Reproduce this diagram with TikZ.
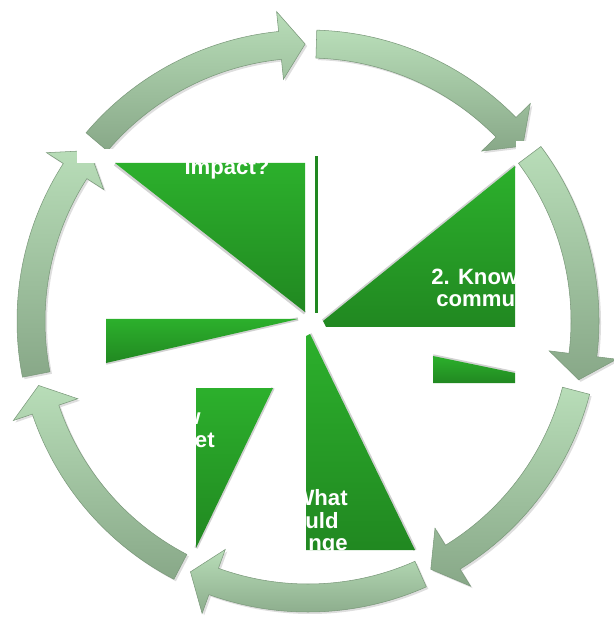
\documentclass[tikz,border=0pt]{standalone}
\usepackage{fontspec}
\setsansfont{Liberation Sans}
\definecolor{arrowlight}{RGB}{184,221,184}
\definecolor{arrowdark}{RGB}{136,168,136}
\definecolor{arrowedge}{RGB}{122,152,122}
\definecolor{wedgelight}{RGB}{44,176,44}
\definecolor{wedgedark}{RGB}{33,136,33}

\begin{document}
\begin{tikzpicture}[x=0.02cm, y=-0.02cm,
	every node/.style={font=\sffamily\bfseries\fontsize{12.6}{14}\selectfont, text=white, inner sep=0pt},
	cyclearrow/.style={top color=arrowlight, bottom color=arrowdark, draw=arrowedge, line width=0.3pt},
	arrowshadow/.style={fill=black!13},
	wedge/.style={top color=wedgelight, bottom color=wedgedark},
	wedgeshadow/.style={draw=black!18, line width=2pt}]
	\useasboundingbox (0,0) rectangle (613,617);
	% seven arrows round the cycle, shadow first
	\begin{scope}[shift={(310,323)}, yscale=-1]
		\foreach \t [evaluate=\t as \s using \t+49.1, evaluate=\t as \b using \t+5.2] in {90.6,39.17,-12.26,-63.69,-115.11,-166.54,-217.97}
			\fill[arrowshadow] (\s:291) arc[start angle=\s, end angle=\b, radius=291] -- (\b:311) -- (\t:277) -- (\b:243) -- (\b:263) arc[start angle=\b, end angle=\s, radius=263] -- cycle;
	\end{scope}
	\begin{scope}[shift={(308,321)}, yscale=-1]
		\foreach \t [evaluate=\t as \s using \t+49.1, evaluate=\t as \b using \t+5.2] in {90.6,39.17,-12.26,-63.69,-115.11,-166.54,-217.97}
			\shade[cyclearrow] (\s:291) arc[start angle=\s, end angle=\b, radius=291] -- (\b:311) -- (\t:277) -- (\b:243) -- (\b:263) arc[start angle=\b, end angle=\s, radius=263] -- cycle;
	\end{scope}
	\fill[white] (77,149) rectangle (120,163);
	\fill[white] (516,141) rectangle (527,153);
	% wedges, cut by their boxes
	\draw[wedgeshadow] (115,164) -- (305,313);
	\shade[wedge] (115,163) -- (305,163) -- (305,312) -- cycle;
	\fill[wedgedark] (314.5,156) rectangle (317.5,313);
	\draw[wedgeshadow] (323,321) -- (515,166);
	\shade[wedge] (323,321) -- (515,166) -- (515,327) -- (326,327) -- cycle;
	\draw[wedgeshadow] (433,356) -- (515,373);
	\shade[wedge] (433,356) -- (515,373) -- (515,383) -- (433,383) -- cycle;
	\draw[wedgeshadow] (298,319) -- (106,363);
	\shade[wedge] (106,319) -- (298,319) -- (106,363) -- cycle;
	\draw[wedgeshadow] (273,388) -- (196,548);
	\shade[wedge] (196,388) -- (273,388) -- (196,548) -- cycle;
	\draw[wedgeshadow] (310,334) -- (415,550);
	\shade[wedge] (306,336) -- (310,334) -- (415,550) -- (306,550) -- cycle;
	% texts
	\begin{scope}
		\clip (115,163) rectangle (305,312);
		\node[anchor=base] (impact) at (227,175) {Impact?};
	\end{scope}
	\begin{scope}
		\clip (323,160) rectangle (515,327);
		\node[anchor=base west] (know) at (431,285) {2. Know};
		\node[anchor=base west] (commu) at (436,307) {commu};
	\end{scope}
	\begin{scope}
		\clip (196,388) rectangle (273,548);
		\node[anchor=base east] (how) at (201,424) {w};
		\node[anchor=base east] (target) at (215,447) {et};
	\end{scope}
	\begin{scope}
		\clip (306,334) rectangle (415,550);
		\node[anchor=base east] (what) at (348,505) {What};
		\node[anchor=base east] (would) at (339,528) {uld};
		\node[anchor=base east] (change) at (348,550) {nge};
	\end{scope}
\end{tikzpicture}
\end{document}
